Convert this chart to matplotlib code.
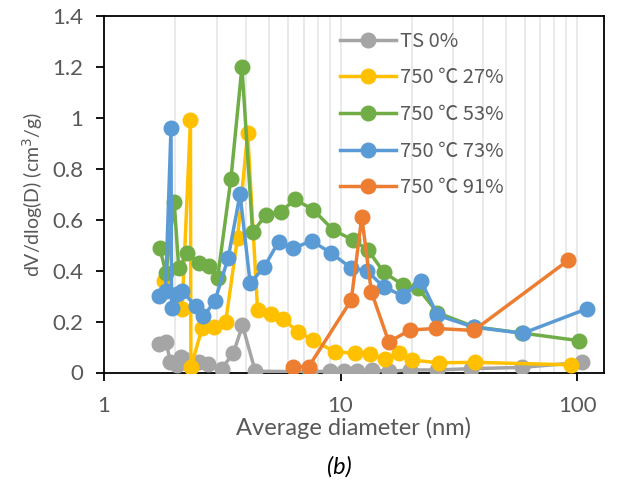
import numpy as np
import matplotlib.pyplot as plt
from matplotlib.ticker import FixedLocator, NullLocator

# pore size distribution values
ts_d = [1.70, 1.83, 1.91, 2.04, 2.11, 2.25, 2.51, 2.74, 3.14, 3.52, 3.85, 4.36,
        7.4, 9.0, 10.3, 11.7, 13.6, 16.0, 19.7, 25.7, 35.5, 58.5, 105]
ts_v = [0.11, 0.12, 0.04, 0.03, 0.06, 0.05, 0.04, 0.035, 0.015, 0.075, 0.185, 0.005,
        0.003, 0.005, 0.005, 0.005, 0.01, 0.005, 0.01, 0.01, 0.015, 0.02, 0.04]

y27_d = [1.79, 2.14, 2.32, 2.33, 2.60, 2.92, 3.27, 3.67, 4.05, 4.46, 5.08, 5.70,
         6.61, 7.65, 9.44, 11.5, 13.3, 15.4, 17.6, 20.0, 26.0, 37.0, 94.0]
y27_v = [0.36, 0.25, 0.99, 0.02, 0.175, 0.18, 0.20, 0.53, 0.94, 0.245, 0.23, 0.21,
         0.16, 0.127, 0.082, 0.075, 0.073, 0.052, 0.078, 0.049, 0.038, 0.04, 0.03]

y53_d = [1.72, 1.83, 1.98, 2.07, 2.25, 2.52, 2.78, 3.02, 3.44, 3.83, 4.25, 4.84,
         5.6, 6.4, 7.65, 9.3, 11.3, 13.1, 15.2, 18.4, 21.3, 25.7, 36.6, 58.5, 102]
y53_v = [0.49, 0.39, 0.67, 0.41, 0.47, 0.43, 0.42, 0.37, 0.76, 1.20, 0.55, 0.62,
         0.63, 0.68, 0.64, 0.56, 0.52, 0.48, 0.395, 0.343, 0.33, 0.235, 0.18, 0.155, 0.125]

y73_d = [1.70, 1.82, 1.92, 1.93, 2.04, 2.14, 2.44, 2.63, 2.94, 3.35, 3.76, 4.15,
         4.76, 5.47, 6.29, 7.54, 9.1, 11.1, 12.9, 15.2, 18.4, 21.9, 25.7, 36.6, 59.0, 110]
y73_v = [0.30, 0.32, 0.96, 0.255, 0.31, 0.32, 0.26, 0.22, 0.28, 0.45, 0.70, 0.35,
         0.415, 0.513, 0.487, 0.517, 0.47, 0.41, 0.40, 0.337, 0.30, 0.36, 0.225, 0.178, 0.154, 0.25]

y91_d = [6.29, 7.34, 11.1, 12.3, 13.5, 16.0, 19.7, 25.4, 36.6, 91.6]
y91_v = [0.023, 0.023, 0.284, 0.61, 0.317, 0.12, 0.167, 0.173, 0.165, 0.44]

labels = ['TS 0%', '750 \u2103 27%', '750 \u2103 53%', '750 \u2103 73%', '750 \u2103 91%']
colors = ['#A5A5A5', '#FFC000', '#70AD47', '#5B9BD5', '#ED7D31']

plt.rcParams['font.family'] = ['Lato', 'Noto Sans CJK SC', 'DejaVu Sans']
txt = '#595959'

fig = plt.figure(figsize=(6.19, 4.83), dpi=100)
ax = fig.add_axes([104 / 619, 1 - 372.5 / 483, 500 / 619, 356.5 / 483])

series = [(ts_d, ts_v), (y27_d, y27_v), (y53_d, y53_v), (y73_d, y73_v), (y91_d, y91_v)]
for (d, v), lab, c in zip(series, labels, colors):
    ax.plot(d, v, color=c, lw=2.5, marker='o', ms=10.5, label=lab, zorder=3)

ax.set_xscale('log')
ax.set_xlim(1, 130)
ax.set_ylim(0, 1.4)

ax.xaxis.set_major_locator(FixedLocator([1, 10, 100]))
ax.set_xticklabels(['1', '10', '100'])
ax.xaxis.set_minor_locator(NullLocator())
ax.set_yticks(np.arange(0, 1.41, 0.2))
ax.set_yticklabels(['0', '0.2', '0.4', '0.6', '0.8', '1', '1.2', '1.4'])

# light vertical gridlines at every log step
grid_x = [k * 10 ** e for e in (0, 1) for k in range(2, 10)] + [10, 100]
for gx in grid_x:
    ax.axvline(gx, color='#E8E8E8', lw=1.3, zorder=1)

for s in ax.spines.values():
    s.set_color('black')
    s.set_linewidth(1.3)
ax.tick_params(axis='both', direction='out', length=6, width=1.3, colors='black',
               labelcolor=txt, labelsize=16)
ax.tick_params(axis='y', pad=9)
ax.tick_params(axis='x', pad=11)

ax.set_ylabel('dV/dlog(D) (cm$^3$/g)', fontsize=14, color=txt, labelpad=5)
ax.set_xlabel('Average diameter (nm)', fontsize=17, color=txt)
ax.xaxis.set_label_coords(0.5, -0.125)
fig.text(339 / 619, 1 - 467 / 483, '(b)', fontsize=17, style='italic',
         ha='center', va='center', color='black')

leg = ax.legend(loc='upper left', bbox_to_anchor=(0.436, 1.01), frameon=False,
                prop={'family': ['Noto Sans CJK SC', 'DejaVu Sans'], 'size': 14.5},
                handlelength=2.75, labelspacing=0.78, handletextpad=0.2)
for t in leg.get_texts():
    t.set_color(txt)

fig.savefig('out.png', dpi=100)
